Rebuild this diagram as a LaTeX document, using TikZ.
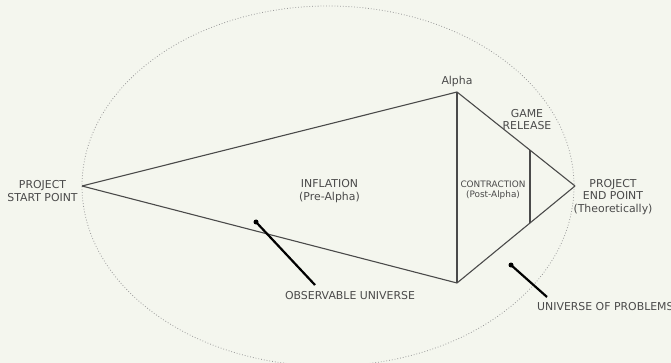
\documentclass[tikz,border=0pt]{standalone}
\usepackage{fontspec}
\setmainfont{DejaVu Sans}
\definecolor{bg}{HTML}{F4F6EE}
\definecolor{txt}{HTML}{4A4A4A}
\definecolor{ln}{HTML}{4A4A4A}
\definecolor{dots}{HTML}{9A9A9A}
\begin{document}
\begin{tikzpicture}[x=1pt,y=-1pt,
  lbl/.style={text=txt,font=\fontsize{10.9}{12.8}\selectfont,align=center,inner sep=0pt},
  smalllbl/.style={text=txt,font=\fontsize{8.9}{10.2}\selectfont,align=center,inner sep=0pt},
  edge/.style={draw=ln,line width=1.1pt},
  pointer/.style={draw=black,line width=2.2pt},
  pdot/.style={circle,fill=black,inner sep=0pt,minimum size=5pt},
  universe/.style={draw=dots,line width=0.8pt,dotted}]
\useasboundingbox[fill=bg] (0,0) rectangle (671,363);
% universe ellipse
\draw[universe] (328,186) ellipse [x radius=246, y radius=180];
% vertices
\coordinate (start) at (82,186);
\coordinate (alpha) at (457,92);
\coordinate (bottom) at (457,283);
\coordinate (end) at (575,186);
\coordinate (relTop) at (530,150);
\coordinate (relBot) at (530,223);
\draw[edge] (start) -- (alpha);
\draw[edge] (start) -- (bottom);
\draw[edge] (alpha) -- (bottom);
\draw[edge] (alpha) -- (end);
\draw[edge] (bottom) -- (end);
\draw[edge] (relTop) -- (relBot);
% labels
\node[lbl] (startlbl) at (42.5,191) {PROJECT\\START POINT};
\node[lbl] (alphalbl) at (457,81) {Alpha};
\node[lbl] (gamelbl) at (527,119.5) {GAME\\RELEASE};
\node[lbl] (inflbl) at (329.5,191) {INFLATION\\(Pre-Alpha)};
\node[smalllbl] (contlbl) at (493,190.5) {CONTRACTION\\(Post-Alpha)};
\node[lbl] (endlbl) at (613,197) {PROJECT\\END POINT\\(Theoretically)};
\node[lbl] (obslbl) at (350,296) {OBSERVABLE UNIVERSE};
\node[lbl,anchor=west] (problbl) at (537,307) {UNIVERSE OF PROBLEMS};
% pointers
\node[pdot] (obsdot) at (256,222) {};
\coordinate (obsend) at (315,285);
\draw[pointer] (obsdot.center) -- (obsend);
\node[pdot] (probdot) at (511,265) {};
\coordinate (probend) at (547,297);
\draw[pointer] (probdot.center) -- (probend);
\end{tikzpicture}
\end{document}
